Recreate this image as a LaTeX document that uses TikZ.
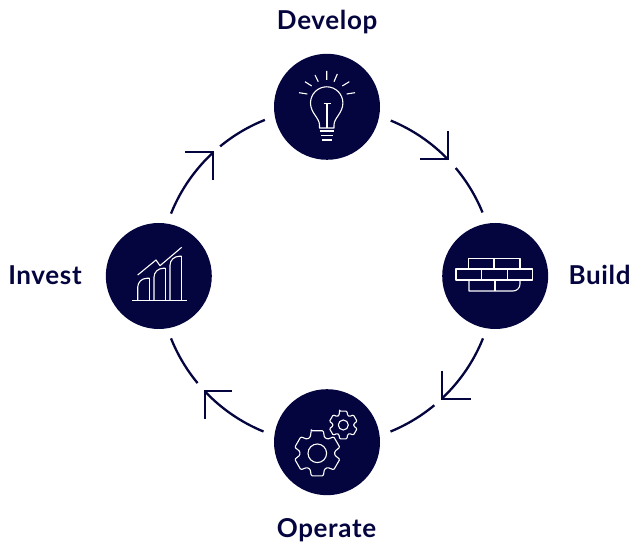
\documentclass[tikz,border=0pt]{standalone}
\usepackage{fontspec}
\setmainfont{Lato}[LetterSpace=2.5]
\usetikzlibrary{positioning,calc}
\definecolor{navy}{HTML}{04043F}
\tikzset{
  stagedisc/.style={circle, fill=navy, minimum size=106pt, inner sep=0pt},
  stagelabel/.style={text=navy, font=\fontsize{26}{30}\selectfont\bfseries, inner sep=0pt, anchor=base},
  ringline/.style={draw=navy, line width=2.3pt},
  iconline/.style={draw=white, line width=1.1pt, line join=round},
  pxicon/.style={shift={(0,546)}, yscale=-1},
}
\newcommand{\geartrace}[4]{% centre x, centre y, root radius, tip radius
  \draw[iconline, rounded corners=1pt, shift={(#1,#2)}]
    (-105:#4)
    \foreach \t in {0,60,...,300} {
      -- (\t-105:#4) -- (\t-75:#4) -- (\t-66:#3) -- (\t-54:#3)
    } -- cycle;
}
\begin{document}
\begin{tikzpicture}[x=1pt, y=1pt]
  \useasboundingbox (0,0) rectangle (630,546);
  % Nodes
  \coordinate (hub) at (327,270);
  \node[stagedisc, above=116pt of hub] (develop) {};
  \node[stagedisc, right=115pt of hub] (build) {};
  \node[stagedisc, below=113pt of hub] (operate) {};
  \node[stagedisc, left=115pt of hub]  (invest) {};
  \node[stagelabel] (developlabel) at (327.2,516) {Develop};
  \node[stagelabel] (buildlabel)   at (599.5,261.5) {Build};
  \node[stagelabel] (operatelabel) at (326.5,8) {Operate};
  \node[stagelabel] (investlabel)  at (45,261.5) {Invest};
  % arcs
  \coordinate (devout) at ($(hub)+(67.7:168)$);
  \coordinate (buildin) at ($(hub)+(40:168)$);
  \coordinate (buildout) at ($(hub)+(-21.8:168)$);
  \coordinate (opin) at ($(hub)+(-50.3:168)$);
  \coordinate (opout) at ($(hub)+(247.8:168)$);
  \coordinate (invin) at ($(hub)+(219.6:168)$);
  \coordinate (invout) at ($(hub)+(158.2:168)$);
  \coordinate (devin) at ($(hub)+(129.5:168)$);
  \draw[ringline] (devout) arc[start angle=67.7, end angle=44, radius=168] coordinate (tipa);
  \draw[ringline] (buildin) arc[start angle=40, end angle=22.2, radius=168];
  \draw[ringline] (tipa) ++(0,28) -- (tipa) -- ++(-28,0);
  \draw[ringline] (buildout) arc[start angle=-21.8, end angle=-46.9, radius=168] coordinate (tipb);
  \draw[ringline] (opin) arc[start angle=-50.3, end angle=-67.8, radius=168];
  \draw[ringline] (tipb) ++(0,28) -- (tipb) -- ++(29,0);
  \draw[ringline] (opout) arc[start angle=247.8, end angle=223.3, radius=168] coordinate (tipc);
  \draw[ringline] (invin) arc[start angle=219.6, end angle=201.8, radius=168];
  \draw[ringline] (tipc) ++(27,0) -- (tipc) -- ++(0,-28);
  \draw[ringline] (invout) arc[start angle=158.2, end angle=132.6, radius=168] coordinate (tipd);
  \draw[ringline] (devin) arc[start angle=129.5, end angle=111.7, radius=168];
  \draw[ringline] (tipd) ++(-28,0) -- (tipd) -- ++(0,-28);
  % icons
  \begin{scope}[pxicon]
    % bulb
    \draw[iconline] (319.5,128) -- (319.5,125) .. controls (319.5,118) and (310.5,113) .. (310.5,103)
      arc[start angle=180, end angle=360, radius=16.2]
      .. controls (342.9,113) and (334,118) .. (334,125) -- (334,128) -- cycle;
    \draw[iconline] (323.5,103.5) -- (330.5,103.5) (327,103.5) -- (327,128);
    \draw[iconline] (319.5,131) -- (334,131) (321,135.5) -- (332.5,135.5) (322,140) -- (332,140);
    \draw[iconline] (326.7,71) -- (326.7,80) (315,75) -- (318.3,81.7) (337.3,74) -- (334,81.7)
      (305,81.7) -- (311.7,86) (349.3,81.7) -- (342.3,86) (299,92.7) -- (307.3,94) (355,92.7) -- (346.7,94);
    % bricks
    \draw[iconline] (468.7,269) rectangle (520,258.7) (494,258.7) -- (494,269);
    \draw[iconline] (456,269) rectangle (532.3,280) (481.7,269) -- (481.7,280) (507.3,269) -- (507.3,280);
    \draw[iconline] (469,280) -- (469,291) -- (505,291) [rounded corners=7pt] -- (520,291) -- (520,280);
    \draw[iconline] (495,280) -- (495,291);
    % gears
    \geartrace{317.3}{453.3}{17.5}{23.3}
    \draw[iconline] (317.3,453.3) circle[radius=9.3];
    \geartrace{343.3}{425}{10.5}{14.3}
    \draw[iconline] (343.3,425) circle[radius=5];
    % chart
    \draw[iconline] (132.3,300.7) -- (186.7,300.7);
    \draw[iconline, rounded corners=9pt] (137.7,300.7) -- (137.7,278.3) -- (149.7,278.3);
    \draw[iconline] (149.7,278.3) -- (149.7,300.7);
    \draw[iconline, rounded corners=9pt] (154,300.7) -- (154,268.3) -- (165.3,268.3);
    \draw[iconline] (165.3,268.3) -- (165.3,300.7);
    \draw[iconline, rounded corners=9pt] (170,300.7) -- (170,256.3) -- (181.7,256.3);
    \draw[iconline] (181.7,256.3) -- (181.7,300.7);
    \draw[iconline] (137.7,275) -- (156,260) -- (160,265.7) -- (181.7,247.3);
  \end{scope}
\end{tikzpicture}
\end{document}
